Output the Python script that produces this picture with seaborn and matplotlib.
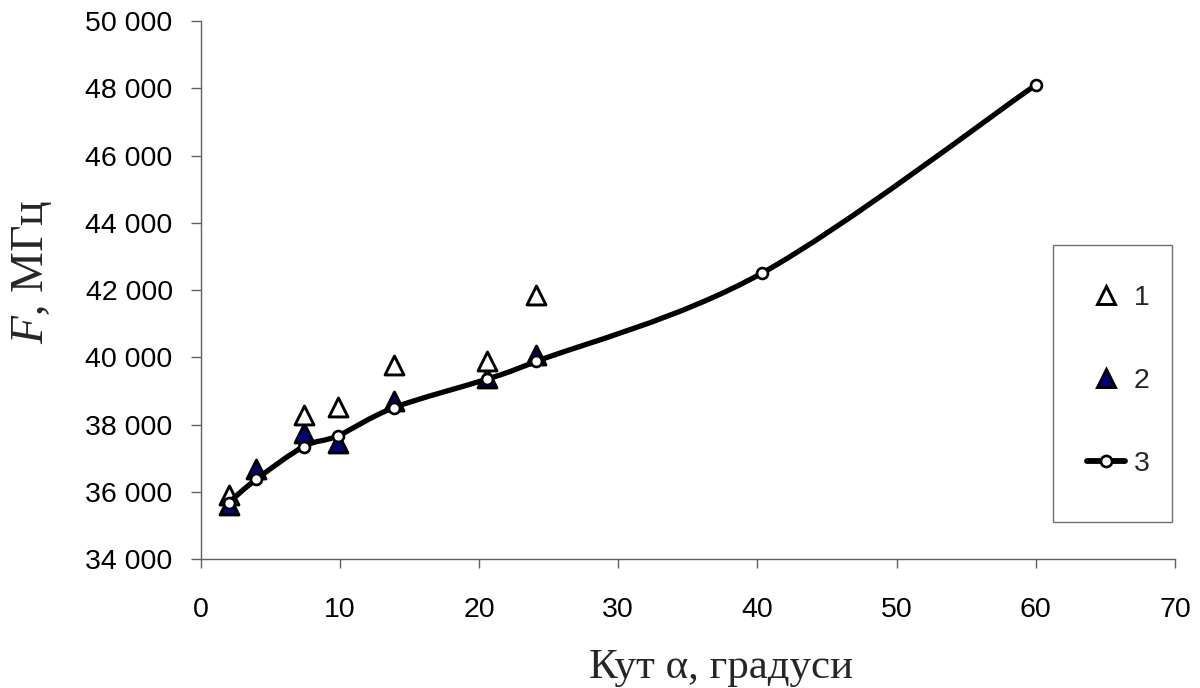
import numpy as np
import matplotlib
matplotlib.use("Agg")
import matplotlib.pyplot as plt
import seaborn as sns
from matplotlib.path import Path
from matplotlib.patches import PathPatch, Rectangle
from matplotlib.lines import Line2D
from matplotlib.ticker import FuncFormatter, MultipleLocator

# Series 1: open triangles
angle_1 = [2.0, 7.4, 9.85, 13.9, 20.6, 24.1]
freq_1 = [35920, 38300, 38530, 39770, 39890, 41850]

# Series 2: filled triangles
angle_2 = [2.0, 4.0, 7.4, 9.85, 13.9, 20.6, 24.1]
freq_2 = [35620, 36680, 37750, 37450, 38710, 39400, 40060]

# Series 3: smoothed line with circle markers
angle_3 = [2.0, 4.0, 7.4, 9.85, 13.9, 20.6, 24.1, 40.3, 60.0]
freq_3 = [35680, 36380, 37350, 37670, 38510, 39360, 39880, 42500, 48100]

legend_labels = ["1", "2", "3"]
x_label = "Кут α, градуси"
y_label = r"$F$, МГц"

sns.set_style("white")
plt.rcParams["font.family"] = ["Liberation Sans", "DejaVu Sans"]
plt.rcParams["mathtext.fontset"] = "custom"
plt.rcParams["mathtext.rm"] = "Liberation Serif"
plt.rcParams["mathtext.it"] = "Liberation Serif:italic"

fig = plt.figure(figsize=(12, 6.88), dpi=100)
ax = fig.add_axes([200.7 / 1200, 1 - 559.3 / 688, (1175 - 200.7) / 1200, (559.3 - 21) / 688])

axis_color = "#606060"
navy = "#000080"


def smooth_path(xs, ys):
    """Cubic Bezier path through the points (Catmull-Rom style tangents)."""
    pts = np.column_stack([xs, ys]).astype(float)
    n = len(pts)
    verts = [pts[0]]
    codes = [Path.MOVETO]
    for i in range(n - 1):
        p0 = pts[i - 1] if i > 0 else pts[i]
        p1 = pts[i]
        p2 = pts[i + 1]
        p3 = pts[i + 2] if i + 2 < n else pts[i + 1]
        c1 = p1 + (p2 - p0) / 6.0
        c2 = p2 - (p3 - p1) / 6.0
        verts += [c1, c2, p2]
        codes += [Path.CURVE4, Path.CURVE4, Path.CURVE4]
    return Path(verts, codes)


# Filled triangles (bottom layer)
sns.scatterplot(x=angle_2, y=freq_2, ax=ax, marker="^", s=185, color=navy,
                edgecolor="black", linewidth=2.1, zorder=2)
# Open triangles
sns.scatterplot(x=angle_1, y=freq_1, ax=ax, marker="^", s=185, color="white",
                edgecolor="black", linewidth=2.1, zorder=3)
# Smoothed curve
curve = PathPatch(smooth_path(angle_3, freq_3), fill=False, edgecolor="black",
                  linewidth=3.8, capstyle="round", joinstyle="round", zorder=4)
ax.add_patch(curve)
sns.scatterplot(x=angle_3, y=freq_3, ax=ax, marker="o", s=62, color="white",
                edgecolor="black", linewidth=1.9, zorder=5)

ax.set_xlim(0, 70)
ax.set_ylim(34000, 50000)
ax.xaxis.set_major_locator(MultipleLocator(10))
ax.yaxis.set_major_locator(MultipleLocator(2000))
ax.yaxis.set_major_formatter(FuncFormatter(lambda v, p: f"{v:,.0f}".replace(",", " ")))

for side in ["top", "right"]:
    ax.spines[side].set_visible(False)
for side in ["left", "bottom"]:
    ax.spines[side].set_color(axis_color)
    ax.spines[side].set_linewidth(1.0)

ax.tick_params(axis="y", which="major", direction="out", length=7.2, width=1.0,
               color=axis_color, pad=13, labelsize=20.5, labelcolor="black", left=True)
ax.tick_params(axis="x", which="major", direction="out", length=6.5, width=1.0,
               color=axis_color, pad=21, labelsize=20.5, labelcolor="black", bottom=True)

ax.set_xlabel(x_label, fontsize=31, family="Liberation Serif")
ax.xaxis.label.set_va("baseline")
ax.xaxis.set_label_coords((721 - 200.7) / 974.3, -(678 - 559.3) / 538.3)

ax.set_ylabel(y_label, fontsize=33, family="Liberation Serif")
ax.yaxis.label.set_va("baseline")
ax.yaxis.set_label_coords((43 - 200.7) / 974.3, (559.3 - 272) / 538.3)

# Legend frame and entries
frame = Rectangle((1053 / 1200, 1 - 522 / 688), (1172 - 1053) / 1200, (522 - 244.7) / 688,
                  transform=fig.transFigure, fill=False, edgecolor="#707070",
                  linewidth=1.0, zorder=10)
fig.patches.append(frame)

handles = [
    Line2D([], [], linestyle="none", marker="^", markersize=13, markerfacecolor="white",
           markeredgecolor="black", markeredgewidth=2.1),
    Line2D([], [], linestyle="none", marker="^", markersize=13, markerfacecolor=navy,
           markeredgecolor="black", markeredgewidth=2.1),
    Line2D([], [], color="black", linewidth=4.2, marker="o", markersize=8,
           markerfacecolor="white", markeredgecolor="black", markeredgewidth=1.9),
]
fig.legend(handles, legend_labels, loc="center left",
           bbox_to_anchor=(1073 / 1200, 1 - 381 / 688), frameon=False,
           borderpad=0, handlelength=1.32, handletextpad=0.32, labelspacing=2.0,
           prop={"family": "Liberation Sans", "size": 20.5})

fig.savefig("out.png", dpi=100)
